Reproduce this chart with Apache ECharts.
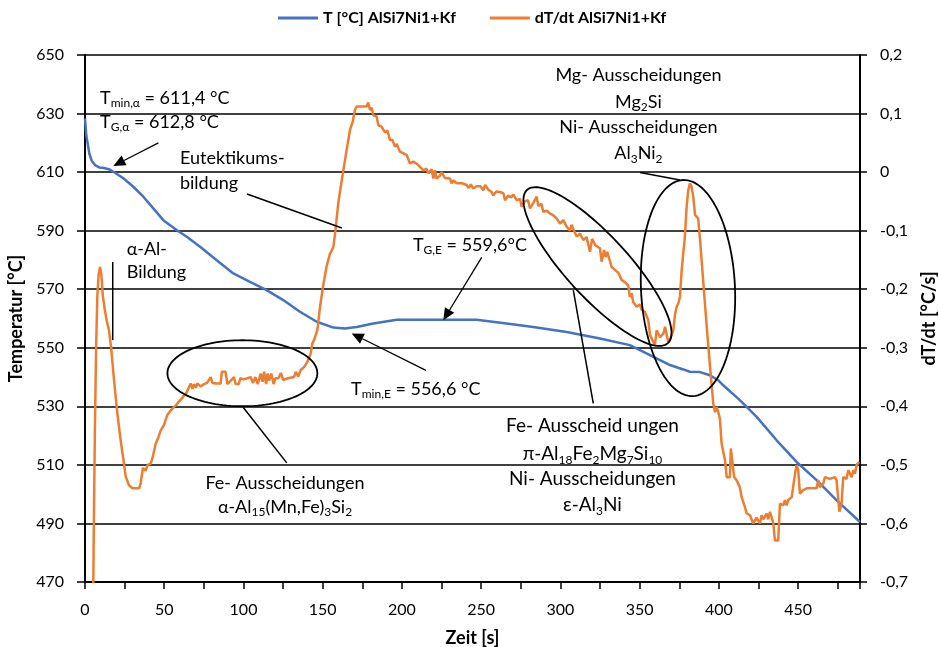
<!DOCTYPE html>
<html>
<head>
<meta charset="utf-8">
<script src="https://cdn.jsdelivr.net/npm/echarts@6/dist/echarts.min.js"></script>
<style>
  html, body { margin: 0; padding: 0; background: #ffffff; }
  #chart { width: 939px; height: 647px; }
</style>
</head>
<body>
<div id="chart"></div>
<script>
// Cooling curve: time [s] and temperature [°C]
const tempTime = [0, 0.8, 1.5, 2.7, 4.2, 6.3, 9.0, 12.0, 15.0, 17.9, 24.2, 30.5, 36.8, 43.1, 49.4, 57.8, 64.2, 72.6, 83.1, 93.6,
  104.1, 114.6, 125.1, 135.6, 146.2, 156.7, 164.0, 171.4, 181.9, 196.7, 220.0, 247.1, 266.0, 282.8, 303.9, 324.9, 343.8, 356.5,
  369.1, 377.5, 381.7, 388.0, 394.3, 399.6, 402.7, 413.2, 423.8, 436.4, 449.0, 461.6, 474.3, 489.0];
const tempValues = [628.4, 622.5, 620.4, 616.4, 613.9, 612.4, 611.6, 611.4, 611.0, 610.1, 607.9, 605.0, 601.6, 597.6, 593.6, 590.2, 587.9, 584.5, 579.9, 575.4,
  572.5, 569.7, 566.3, 562.3, 558.9, 556.9, 556.6, 557.1, 558.3, 559.6, 559.6, 559.6, 558.3, 557.1, 555.4, 553.2, 550.9, 547.5,
  544.1, 542.6, 541.8, 541.7, 540.6, 538.9, 537.2, 532.1, 526.4, 518.4, 511.0, 504.8, 497.9, 490.5];

// Cooling rate: time [s] and dT/dt [°C/s]
const rateTime = [4.8, 5.5, 6.2, 7.0, 7.8, 8.6, 9.5, 10.3, 11.2, 12.5, 13.8, 15.1, 16.5, 18.3, 20.4, 22.5, 24.6, 25.7, 27.8, 29.9,
  32.0, 34.1, 35.1, 36.5, 37.2, 38.2, 39.5, 41.4, 42.5, 44.6, 46.0, 47.8, 49.8, 51.9, 54.1, 56.2, 57.5, 59.3, 61.0, 62.5,
  64.0, 65.5, 66.7, 67.8, 68.8, 70.0, 70.9, 73.0, 75.1, 77.0, 78.2, 79.3, 80.4, 83.0, 85.6, 86.3, 88.7, 89.8, 92.0, 94.0,
  95.0, 97.0, 98.0, 100.0, 102.5, 104.5, 106.0, 107.5, 109.0, 110.8, 112.0, 113.0, 114.3, 115.2, 116.2, 117.5, 119.0, 120.0, 122.0, 123.6,
  125.0, 128.0, 131.9, 133.0, 134.5, 136.1, 138.2, 140.3, 142.4, 143.4, 144.5, 146.6, 148.3, 150.5, 152.5, 154.5, 156.7, 158.0, 159.8, 162.0,
  163.0, 165.1, 167.2, 168.9, 170.3, 171.4, 174.5, 177.7, 178.7, 179.8, 180.9, 181.9, 184.0, 185.1, 187.0, 188.2, 189.3, 190.8, 192.4, 194.0,
  195.6, 196.7, 198.7, 201.0, 203.0, 205.0, 207.2, 210.3, 213.5, 215.5, 216.6, 218.7, 219.8, 220.8, 221.8, 224.0, 225.0, 227.1, 230.3, 231.3,
  232.4, 234.5, 238.0, 240.8, 241.9, 243.5, 245.0, 247.0, 249.5, 251.3, 252.5, 254.5, 256.6, 257.6, 259.5, 261.8, 264.0, 265.0, 267.0, 269.0,
  270.2, 272.4, 274.5, 275.5, 277.5, 279.5, 280.8, 282.8, 285.0, 286.0, 288.0, 289.2, 291.5, 293.4, 295.5, 297.6, 299.7, 301.8, 303.9, 306.0,
  307.0, 308.1, 310.2, 312.3, 314.4, 316.5, 317.5, 318.6, 320.0, 322.0, 324.9, 326.0, 327.5, 328.5, 329.5, 332.3, 334.4, 336.5, 338.6, 340.7,
  342.8, 343.8, 344.9, 345.9, 348.1, 350.2, 351.2, 353.3, 355.4, 356.5, 357.6, 359.6, 360.7, 362.8, 364.9, 366.0, 368.0, 369.1, 371.2, 372.2,
  373.3, 374.4, 375.4, 376.5, 378.5, 379.6, 380.6, 381.7, 382.7, 383.8, 384.9, 386.9, 388.0, 390.1, 392.2, 394.3, 395.3, 396.4, 397.5, 398.5,
  399.6, 400.6, 401.7, 403.8, 404.9, 406.9, 407.5, 408.6, 409.6, 411.1, 413.2, 414.3, 416.4, 417.5, 419.6, 421.6, 423.7, 425.9, 426.9, 428.0,
  430.1, 431.1, 432.2, 433.3, 434.3, 435.3, 437.4, 438.5, 440.6, 441.6, 442.7, 443.7, 445.9, 448.0, 449.0, 450.0, 451.1, 453.2, 455.4, 461.6,
  462.7, 463.7, 465.8, 466.9, 470.0, 473.2, 474.2, 476.0, 477.4, 478.4, 480.5, 481.6, 483.7, 484.8, 485.8, 486.9, 488.5];
const rateValues = [-0.85, -0.62, -0.45, -0.30, -0.21, -0.175, -0.162, -0.175, -0.21, -0.235, -0.255, -0.27, -0.30, -0.355, -0.412, -0.458, -0.498, -0.52, -0.535, -0.54,
  -0.54, -0.54, -0.532, -0.505, -0.503, -0.51, -0.50, -0.498, -0.489, -0.464, -0.455, -0.441, -0.432, -0.415, -0.407, -0.401, -0.398, -0.392, -0.387, -0.381,
  -0.377, -0.368, -0.361, -0.37, -0.362, -0.368, -0.361, -0.366, -0.362, -0.36, -0.358, -0.350, -0.360, -0.361, -0.361, -0.341, -0.341, -0.362, -0.356, -0.350,
  -0.362, -0.362, -0.352, -0.354, -0.352, -0.350, -0.360, -0.350, -0.362, -0.344, -0.358, -0.341, -0.362, -0.344, -0.356, -0.344, -0.362, -0.352, -0.352, -0.343,
  -0.355, -0.352, -0.350, -0.341, -0.349, -0.338, -0.333, -0.324, -0.310, -0.293, -0.287, -0.270, -0.23, -0.19, -0.16, -0.14, -0.128, -0.10, -0.053, -0.014,
  0.003, 0.038, 0.072, 0.086, 0.106, 0.112, 0.112, 0.112, 0.119, 0.106, 0.110, 0.097, 0.095, 0.080, 0.078, 0.075, 0.068, 0.071, 0.055, 0.055,
  0.043, 0.048, 0.035, 0.032, 0.029, 0.015, 0.018, 0.012, 0.003, 0.006, -0.002, 0.005, -0.011, 0.003, -0.011, -0.006, 0.000, -0.010, -0.011, -0.019,
  -0.014, -0.019, -0.019, -0.022, -0.027, -0.021, -0.028, -0.024, -0.024, -0.031, -0.022, -0.030, -0.034, -0.040, -0.033, -0.034, -0.036, -0.048, -0.040, -0.043,
  -0.038, -0.048, -0.046, -0.059, -0.050, -0.048, -0.062, -0.053, -0.042, -0.058, -0.054, -0.068, -0.066, -0.071, -0.074, -0.079, -0.088, -0.082, -0.093, -0.100,
  -0.090, -0.097, -0.110, -0.105, -0.116, -0.111, -0.123, -0.136, -0.114, -0.125, -0.130, -0.153, -0.133, -0.145, -0.136, -0.162, -0.167, -0.172, -0.184, -0.188,
  -0.194, -0.213, -0.207, -0.222, -0.230, -0.226, -0.235, -0.239, -0.253, -0.278, -0.280, -0.296, -0.270, -0.282, -0.276, -0.264, -0.290, -0.286, -0.270, -0.245,
  -0.230, -0.224, -0.213, -0.167, -0.110, -0.060, -0.031, -0.019, -0.025, -0.042, -0.073, -0.079, -0.113, -0.187, -0.261, -0.330, -0.36, -0.395, -0.41, -0.401,
  -0.41, -0.421, -0.464, -0.492, -0.521, -0.521, -0.472, -0.472, -0.521, -0.526, -0.538, -0.555, -0.572, -0.583, -0.586, -0.600, -0.590, -0.600, -0.586, -0.593,
  -0.583, -0.593, -0.580, -0.590, -0.600, -0.629, -0.629, -0.566, -0.569, -0.560, -0.569, -0.560, -0.555, -0.515, -0.500, -0.509, -0.549, -0.543, -0.540, -0.540,
  -0.526, -0.538, -0.532, -0.521, -0.524, -0.521, -0.526, -0.580, -0.566, -0.521, -0.524, -0.509, -0.521, -0.509, -0.515, -0.500, -0.495];

const seriesNames = ['T [°C] AlSi7Ni1+Kf', 'dT/dt AlSi7Ni1+Kf'];
const axisNames = { time: 'Zeit [s]', temp: 'Temperatur [°C]', rate: 'dT/dt [°C/s]' };

const FONT = 'Lato';
const BLUE = '#4472C4';
const ORANGE = '#ED7D31';

const fmtComma = v => {
  const r = Math.round(v * 10) / 10;
  return r === 0 ? '0' : r.toFixed(1).replace('.', ',');
};

const chart = echarts.init(document.getElementById('chart'), null, { renderer: 'canvas' });

const option = {
  animation: false,
  backgroundColor: '#ffffff',
  textStyle: { fontFamily: FONT },
  grid: { left: 85, top: 55, width: 775, height: 527, containLabel: false, outerBoundsMode: 'none' },
  legend: {
    data: seriesNames,
    left: 273, top: 5,
    icon: 'rect', itemWidth: 40, itemHeight: 3, itemGap: 34,
    textStyle: { fontFamily: FONT, fontWeight: 'bold', fontSize: 16, color: '#000' }
  },
  xAxis: {
    type: 'value', min: 0, max: 489, interval: 25,
    name: axisNames.time, nameLocation: 'middle', nameGap: 47,
    nameTextStyle: { fontFamily: FONT, fontWeight: 'bold', fontSize: 18, color: '#000' },
    axisLine: { show: true, onZero: false, lineStyle: { color: '#000', width: 2 } },
    axisTick: { show: true, inside: false, length: 7, lineStyle: { color: '#000', width: 1.5 } },
    axisLabel: { fontFamily: FONT, fontSize: 16, color: '#000', margin: 20,
      formatter: v => (Math.abs(v % 50) < 1e-6 ? String(v) : '') },
    splitLine: { show: false }
  },
  yAxis: [
    {
      type: 'value', min: 470, max: 650, interval: 20, position: 'left',
      name: axisNames.temp, nameLocation: 'middle', nameGap: 56, nameRotate: 90,
      nameTextStyle: { fontFamily: FONT, fontWeight: 'bold', fontSize: 18, color: '#000' },
      axisLine: { show: true, onZero: false, lineStyle: { color: '#000', width: 2 } },
      axisTick: { show: true, inside: false, length: 8, lineStyle: { color: '#000', width: 1.5 } },
      axisLabel: { fontFamily: FONT, fontSize: 16, color: '#000', margin: 21 },
      splitLine: { show: true, lineStyle: { color: '#000', width: 1.5 } }
    },
    {
      type: 'value', min: -0.7, max: 0.2, interval: 0.1, position: 'right',
      name: axisNames.rate, nameLocation: 'middle', nameGap: 60, nameRotate: 90,
      nameTextStyle: { fontFamily: FONT, fontWeight: 'bold', fontSize: 18, color: '#000' },
      axisLine: { show: true, onZero: false, lineStyle: { color: '#000', width: 2 } },
      axisTick: { show: true, inside: false, length: 7, lineStyle: { color: '#000', width: 1.5 } },
      axisLabel: { fontFamily: FONT, fontSize: 16, color: '#000', margin: 20, formatter: fmtComma },
      splitLine: { show: false }
    }
  ],
  series: [
    {
      name: seriesNames[0], type: 'line', yAxisIndex: 0,
      data: tempTime.map((t, i) => [t, tempValues[i]]),
      showSymbol: false, symbol: 'none', clip: true,
      lineStyle: { color: BLUE, width: 2.5 }, itemStyle: { color: BLUE }, z: 3
    },
    {
      name: seriesNames[1], type: 'line', yAxisIndex: 1,
      data: rateTime.map((t, i) => [t, rateValues[i]]),
      showSymbol: false, symbol: 'none', clip: true,
      lineStyle: { color: ORANGE, width: 2.5 }, itemStyle: { color: ORANGE }, z: 4
    }
  ]
};
chart.setOption(option);

// ---- annotations, anchored in (time, temperature) coordinates ----
const px = p => chart.convertToPixel({ xAxisIndex: 0, yAxisIndex: 0 }, p);

const ellipses = [
  { a: [52.0, 541.3], b: [146.6, 541.3], minor: 33 },
  { a: [278.9, 603.9], b: [367.8, 551.6], minor: 31 },
  { a: [377.3, 607.3], b: [383.6, 533.5], minor: 47 }
];
const leaders = [
  { from: [102.2, 602.5], to: [162.1, 590.9] },
  { from: [17.5, 579.3], to: [17.5, 552.6] },
  { from: [99.9, 529.6], to: [127.3, 510.7] },
  { from: [308.1, 569.7], to: [320.7, 531.0] },
  { from: [350.2, 609.9], to: [375.4, 607.3] }
];
const arrows = [
  { from: [46.3, 620.0], to: [17.9, 612.1] },
  { from: [250.3, 580.9], to: [226.1, 559.4] },
  { from: [215.1, 542.3], to: [168.3, 554.9] }
];
// text parts: plain strings or {s: subscript}
const labels = [
  { at: [9.5, 635.3], align: 'left', size: 18, parts: ['T', { s: 'min,α' }, ' = 611,4 °C'] },
  { at: [9.5, 627.1], align: 'left', size: 18, parts: ['T', { s: 'G,α' }, ' = 612,8 °C'] },
  { at: [59.9, 614.8], align: 'left', size: 18, parts: ['Eutektikums-'] },
  { at: [59.9, 606.3], align: 'left', size: 18, parts: ['bildung'] },
  { at: [26.3, 583.6], align: 'left', size: 18, parts: ['α-Al-'] },
  { at: [26.3, 575.9], align: 'left', size: 18, parts: ['Bildung'] },
  { at: [126.2, 503.8], align: 'center', size: 18, parts: ['Fe- Ausscheidungen'] },
  { at: [126.2, 495.6], align: 'center', size: 18, parts: ['α-Al', { s: '15' }, '(Mn,Fe)', { s: '3' }, 'Si', { s: '2' }] },
  { at: [242.9, 585.1], align: 'center', size: 18, parts: ['T', { s: 'G,E' }, ' = 559,6°C'] },
  { at: [208.7, 535.9], align: 'center', size: 18, parts: ['T', { s: 'min,E' }, ' = 556,6 °C'] },
  { at: [349.2, 643.2], align: 'center', size: 18, parts: ['Mg- Ausscheidungen'] },
  { at: [349.2, 634.0], align: 'center', size: 18, parts: ['Mg', { s: '2' }, 'Si'] },
  { at: [349.2, 625.3], align: 'center', size: 18, parts: ['Ni- Ausscheidungen'] },
  { at: [349.2, 616.4], align: 'center', size: 18, parts: ['Al', { s: '3' }, 'Ni', { s: '2' }] },
  { at: [320.2, 523.2], align: 'center', size: 19, parts: ['Fe- Ausscheid ungen'] },
  { at: [320.2, 513.9], align: 'center', size: 19, parts: ['π-Al', { s: '18' }, 'Fe', { s: '2' }, 'Mg', { s: '7' }, 'Si', { s: '10' }] },
  { at: [320.2, 505.3], align: 'center', size: 19, parts: ['Ni- Ausscheidungen'] },
  { at: [320.2, 496.5], align: 'center', size: 19, parts: ['ε-Al', { s: '3' }, 'Ni'] }
];

const graphics = [];

ellipses.forEach(e => {
  const A = px(e.a), B = px(e.b);
  const cx = (A[0] + B[0]) / 2, cy = (A[1] + B[1]) / 2;
  const dx = B[0] - A[0], dy = B[1] - A[1];
  const len = Math.hypot(dx, dy);
  const ux = dx / len, uy = dy / len;       // major direction
  const vx = -uy, vy = ux;                   // minor direction
  const ra = len / 2, rb = e.minor;
  const pts = [];
  for (let k = 0; k < 120; k++) {
    const th = (k / 120) * Math.PI * 2;
    const c = Math.cos(th), s = Math.sin(th);
    pts.push([cx + ra * c * ux + rb * s * vx, cy + ra * c * uy + rb * s * vy]);
  }
  graphics.push({
    type: 'polygon', silent: true, z: 10,
    shape: { points: pts },
    style: { fill: 'none', stroke: '#000', lineWidth: 1.8 }
  });
});

leaders.forEach(l => {
  const P = px(l.from), Q = px(l.to);
  graphics.push({
    type: 'line', silent: true, z: 10,
    shape: { x1: P[0], y1: P[1], x2: Q[0], y2: Q[1] },
    style: { stroke: '#000', lineWidth: 1.5 }
  });
});

arrows.forEach(a => {
  const P = px(a.from), Q = px(a.to);
  const dx = Q[0] - P[0], dy = Q[1] - P[1];
  const len = Math.hypot(dx, dy);
  const ux = dx / len, uy = dy / len;
  const head = 12, half = 5.5;
  const bx = Q[0] - ux * head, by = Q[1] - uy * head;
  graphics.push({
    type: 'line', silent: true, z: 10,
    shape: { x1: P[0], y1: P[1], x2: bx, y2: by },
    style: { stroke: '#000', lineWidth: 1.3 }
  });
  graphics.push({
    type: 'polygon', silent: true, z: 10,
    shape: { points: [[Q[0], Q[1]], [bx - uy * half, by + ux * half], [bx + uy * half, by - ux * half]] },
    style: { fill: '#000', stroke: 'none' }
  });
});

labels.forEach(l => {
  const P = px(l.at);
  const size = l.size;
  const sub = Math.round(size * 0.65);
  const lh = Math.round(size * 1.3);
  const text = l.parts.map(p => (typeof p === 'string' ? '{n|' + p + '}' : '{s|' + p.s + '}')).join('');
  graphics.push({
    type: 'text', silent: true, z: 11,
    x: P[0], y: P[1],
    style: {
      text: text,
      align: l.align, textAlign: l.align,
      verticalAlign: 'middle', textVerticalAlign: 'middle',
      fill: '#000',
      rich: {
        n: { fontFamily: FONT, fontSize: size, color: '#000', lineHeight: lh, verticalAlign: 'middle' },
        s: { fontFamily: FONT, fontSize: sub, color: '#000', lineHeight: sub, verticalAlign: 'bottom' }
      }
    }
  });
});

chart.setOption({ graphic: { elements: graphics } });
</script>
</body>
</html>
